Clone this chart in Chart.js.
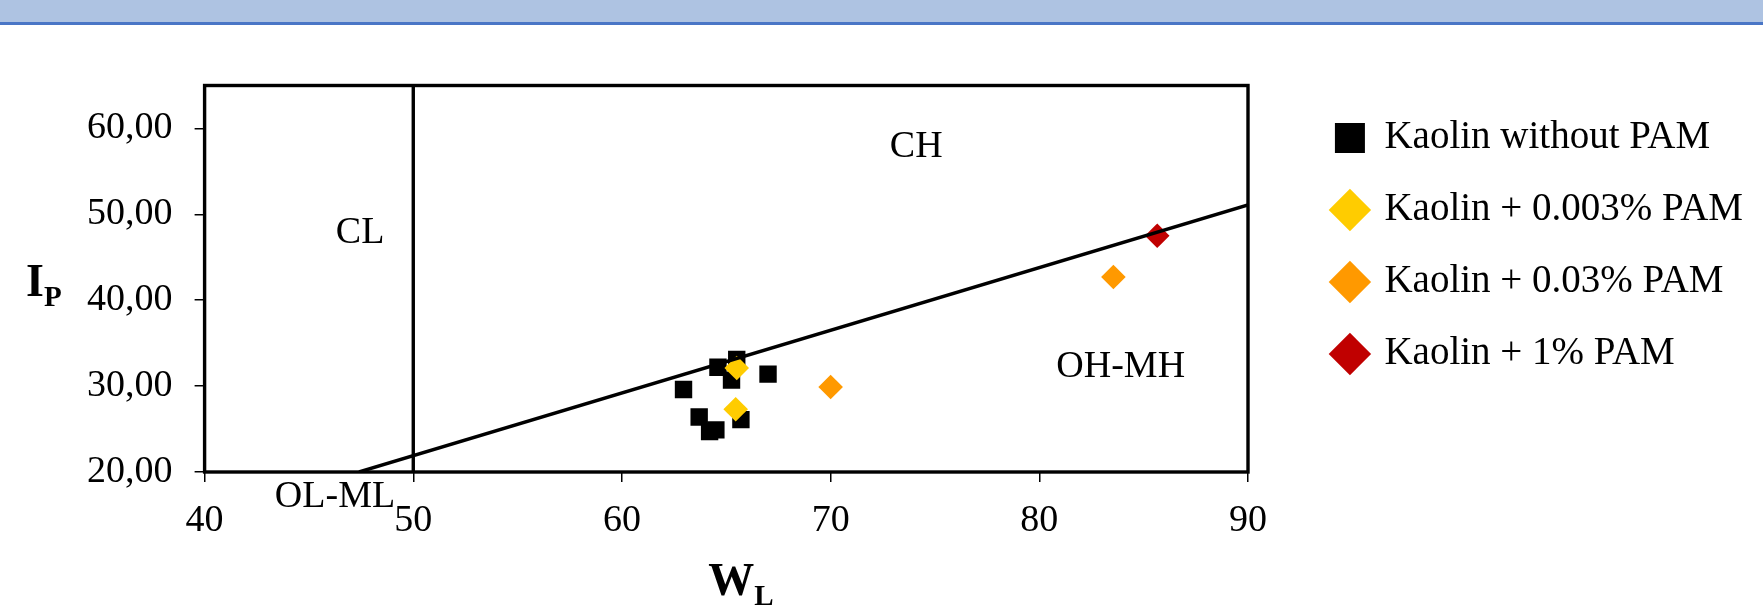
<!DOCTYPE html>
<html>
<head>
<meta charset="utf-8">
<script src="https://cdn.jsdelivr.net/npm/chart.js@4.4.0/dist/chart.umd.min.js"></script>
<style>
  html, body { margin: 0; padding: 0; background: #fff; }
  #wrap { position: absolute; left: 0; top: 0; width: 1763px; height: 612px; }
  #band { position: absolute; left: 0; top: 0; width: 1763px; height: 22px; background: #aec3e2; border-bottom: 3px solid #4a76c6; }
</style>
</head>
<body>
<div id="wrap"><canvas id="chart"></canvas></div>
<div id="band"></div>
<script>
const seriesNames = ['Kaolin without PAM', 'Kaolin + 0.003% PAM', 'Kaolin + 0.03% PAM', 'Kaolin + 1% PAM'];

const kaolinWL = [62.95, 64.6, 65.5, 65.25, 67.0, 63.7, 64.2, 64.5, 65.7];
const kaolinIP = [29.6, 32.2, 33.1, 30.7, 31.4, 26.4, 24.7, 24.9, 26.1];
const pam0003WL = [65.5, 65.45];
const pam0003IP = [32.1, 27.3];
const pam003WL = [70.0, 83.55];
const pam003IP = [29.9, 42.7];
const pam1WL = [85.65];
const pam1IP = [47.5];

// A-line and the WL = 50 boundary
const aLineWL = [47.4, 90];
const aLineIP = [20, 51.1];
const clLineWL = [50, 50];
const clLineIP = [20, 65];

const xTicks = [40, 50, 60, 70, 80, 90];
const yTicks = [20, 30, 40, 50, 60];

// zone names, anchored in data units
const zoneNames = ['CH', 'CL', 'OH-MH', 'OL-ML'];
const zoneWL = [74.1, 47.45, 83.9, 46.25];
const zoneIP = [57.8, 47.8, 32.2, 17.1];

const FONT = '"Liberation Serif", "Times New Roman", serif';
const PAD_RIGHT = 10;
Chart.defaults.font.family = FONT;
Chart.defaults.color = '#000';

function pts(xs, ys) {
    return xs.map((x, i) => ({ x: x, y: ys[i] }));
}

function marker(label, xs, ys, color, style, order) {
    return {
        label: label,
        data: pts(xs, ys),
        backgroundColor: color,
        borderColor: color,
        borderWidth: 0,
        pointStyle: style,
        pointRadius: 12.3,
        pointHoverRadius: 12.3,
        order: order
    };
}

function boundary(xs, ys) {
    return {
        label: '',
        data: pts(xs, ys),
        showLine: true,
        borderColor: '#000',
        borderWidth: 3.4,
        pointRadius: 0,
        fill: false,
        order: 0
    };
}

const extras = {
    id: 'extras',
    beforeDatasetsDraw(chart) {
        const { ctx, chartArea: a } = chart;
        ctx.save();
        ctx.strokeStyle = '#000';
        ctx.lineWidth = 3.4;
        ctx.strokeRect(a.left, a.top, a.right - a.left, a.bottom - a.top);
        ctx.restore();
    },
    afterDraw(chart) {
        const { ctx, chartArea: a, scales } = chart;
        ctx.save();
        ctx.fillStyle = '#000';
        ctx.font = '38px ' + FONT;
        ctx.textAlign = 'center';
        ctx.textBaseline = 'middle';
        zoneNames.forEach((t, i) => {
            ctx.fillText(t, scales.x.getPixelForValue(zoneWL[i]), scales.y.getPixelForValue(zoneIP[i]));
        });

        // axis titles with subscripts
        ctx.textAlign = 'left';
        ctx.textBaseline = 'alphabetic';
        const cy = (a.top + a.bottom) / 2;
        ctx.font = 'bold 46px ' + FONT;
        ctx.fillText('I', 26, cy + 17);
        const iw = ctx.measureText('I').width;
        ctx.font = 'bold 29px ' + FONT;
        ctx.fillText('P', 26 + iw, cy + 27.5);

        const cx = (a.left + a.right) / 2;
        ctx.font = 'bold 46px ' + FONT;
        ctx.fillText('W', cx - 18, a.bottom + 123);
        const ww = ctx.measureText('W').width;
        ctx.font = 'bold 29px ' + FONT;
        ctx.fillText('L', cx - 18 + ww, a.bottom + 133);
        ctx.restore();
    }
};

document.addEventListener('DOMContentLoaded', function () {
    const ctx = document.getElementById('chart');

    new Chart(ctx, {
        type: 'scatter',
        data: {
            datasets: [
                marker(seriesNames[0], kaolinWL, kaolinIP, '#000000', 'rect', 4),
                marker(seriesNames[1], pam0003WL, pam0003IP, '#ffcc00', 'rectRot', 3),
                marker(seriesNames[2], pam003WL, pam003IP, '#ff9900', 'rectRot', 2),
                marker(seriesNames[3], pam1WL, pam1IP, '#c00000', 'rectRot', 1),
                boundary(aLineWL, aLineIP),
                boundary(clLineWL, clLineIP)
            ]
        },
        options: {
            responsive: true,
            maintainAspectRatio: false,
            animation: false,
            devicePixelRatio: 1,
            layout: {
                padding: { top: 85.5, left: 0, right: PAD_RIGHT, bottom: 0 }
            },
            plugins: {
                tooltip: { enabled: false },
                legend: {
                    position: 'right',
                    align: 'start',
                    maxWidth: 700,
                    labels: {
                        filter: item => item.datasetIndex < 4,
                        sort: (a, b) => a.datasetIndex - b.datasetIndex,
                        usePointStyle: true,
                        boxWidth: 30,
                        boxHeight: 30,
                        padding: 33,
                        color: '#000',
                        font: { size: 39 }
                    }
                }
            },
            scales: {
                x: {
                    type: 'linear',
                    min: 40,
                    max: 90,
                    afterBuildTicks: s => { s.ticks = xTicks.map(v => ({ value: v })); },
                    grid: { drawOnChartArea: false, drawTicks: true, tickLength: 10, color: '#000', lineWidth: 1.5 },
                    border: { display: false },
                    ticks: { color: '#000', font: { size: 38 }, padding: 16, maxRotation: 0, autoSkip: false },
                    afterFit: s => { s.height = 140; }
                },
                y: {
                    type: 'linear',
                    min: 20,
                    max: 65,
                    afterBuildTicks: s => { s.ticks = yTicks.map(v => ({ value: v })); },
                    grid: { drawOnChartArea: false, drawTicks: true, tickLength: 10, color: '#000', lineWidth: 1.5 },
                    border: { display: false },
                    ticks: {
                        color: '#000',
                        font: { size: 38 },
                        padding: 22,
                        autoSkip: false,
                        callback: v => v.toFixed(2).replace('.', ',')
                    },
                    afterFit: s => { s.width = 204.6; }
                },
                y2: {
                    type: 'linear',
                    position: 'right',
                    grid: { display: false },
                    border: { display: false },
                    ticks: { display: false },
                    afterFit: s => { s.width = s.chart.width - PAD_RIGHT - s.chart.legend.width - 1248; }
                }
            }
        },
        plugins: [extras]
    });
});
</script>
</body>
</html>
